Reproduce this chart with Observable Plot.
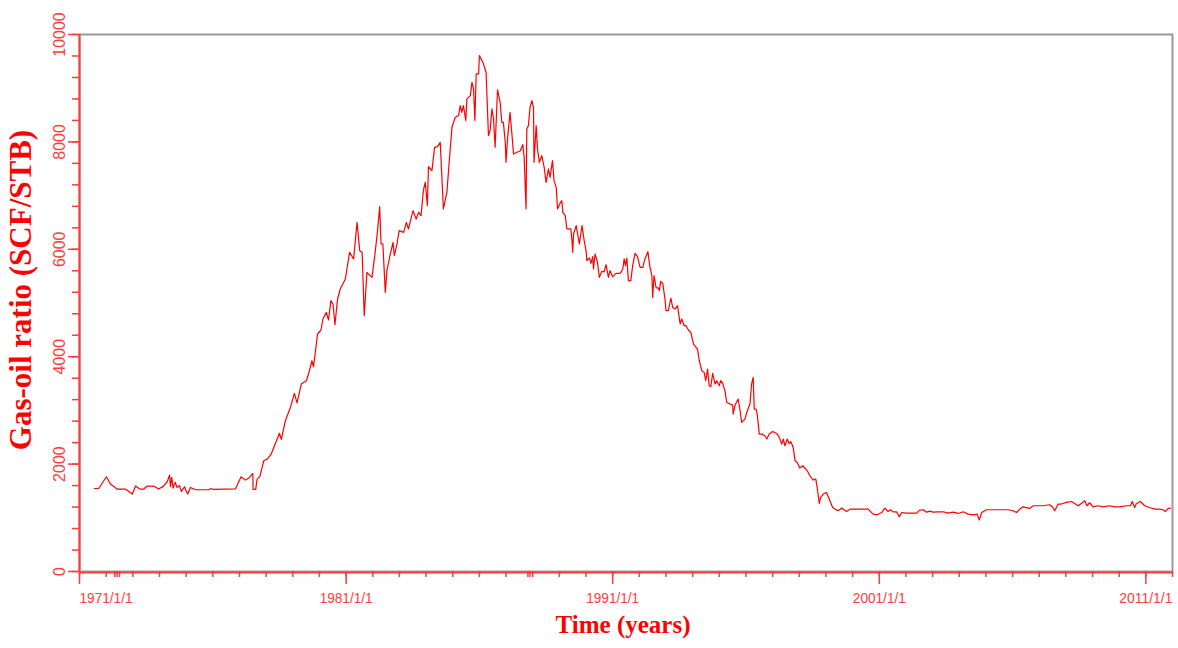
<!DOCTYPE html>
<html>
<head>
<meta charset="utf-8">
<script src="https://cdn.jsdelivr.net/npm/d3@7"></script>
<script src="https://cdn.jsdelivr.net/npm/@observablehq/plot@0.6"></script>
<style>
  html, body { margin: 0; padding: 0; background: #fff; }
  #chart { width: 1178px; height: 648px; }
</style>
</head>
<body>
<div id="chart"></div>
<script>
// Decimal years of each sample
const years = [
  1971.56, 1971.72, 1972.01, 1972.16, 1972.41, 1972.72, 1972.98, 1973.10, 1973.26, 1973.41,
  1973.54, 1973.78, 1973.97, 1974.14, 1974.29, 1974.38, 1974.41, 1974.46, 1974.51, 1974.59,
  1974.66, 1974.75, 1974.82, 1974.94, 1974.98, 1975.06, 1975.16, 1975.35, 1975.85, 1975.94,
  1976.03, 1976.85, 1977.06, 1977.22, 1977.35, 1977.50, 1977.51, 1977.61, 1977.66, 1977.76,
  1977.91, 1978.04, 1978.19, 1978.35, 1978.50, 1978.57, 1978.72, 1978.91, 1979.06, 1979.16,
  1979.32, 1979.51, 1979.59, 1979.72, 1979.78, 1979.93, 1980.06, 1980.13, 1980.26, 1980.34,
  1980.43, 1980.51, 1980.58, 1980.68, 1980.78, 1980.97, 1981.13, 1981.28, 1981.41, 1981.51,
  1981.60, 1981.68, 1981.78, 1981.97, 1982.09, 1982.18, 1982.26, 1982.31, 1982.38, 1982.47,
  1982.53, 1982.66, 1982.76, 1982.81, 1982.91, 1982.99, 1983.16, 1983.26, 1983.34, 1983.51,
  1983.63, 1983.72, 1983.81, 1983.90, 1983.97, 1984.05, 1984.09, 1984.22, 1984.32, 1984.43,
  1984.53, 1984.65, 1984.78, 1984.88, 1984.97, 1985.09, 1985.22, 1985.28, 1985.34, 1985.40,
  1985.49, 1985.53, 1985.66, 1985.72, 1985.78, 1985.83, 1985.88, 1985.97, 1986.00, 1986.13,
  1986.25, 1986.34, 1986.40, 1986.47, 1986.53, 1986.59, 1986.68, 1986.78, 1986.84, 1986.90,
  1986.97, 1987.00, 1987.05, 1987.15, 1987.22, 1987.28, 1987.41, 1987.53, 1987.63, 1987.68,
  1987.75, 1987.78, 1987.84, 1987.90, 1987.97, 1988.03, 1988.05, 1988.13, 1988.18, 1988.25,
  1988.34, 1988.43, 1988.50, 1988.59, 1988.65, 1988.74, 1988.80, 1988.88, 1988.93, 1989.03,
  1989.09, 1989.13, 1989.22, 1989.28, 1989.43, 1989.47, 1989.50, 1989.53, 1989.63, 1989.75,
  1989.85, 1989.93, 1990.00, 1990.03, 1990.13, 1990.18, 1990.25, 1990.28, 1990.34, 1990.43,
  1990.50, 1990.59, 1990.68, 1990.75, 1990.84, 1990.90, 1991.00, 1991.13, 1991.28, 1991.38,
  1991.43, 1991.48, 1991.53, 1991.59, 1991.68, 1991.75, 1991.84, 1991.93, 1992.03, 1992.13,
  1992.21, 1992.32, 1992.40, 1992.47, 1992.50, 1992.55, 1992.63, 1992.71, 1992.75, 1992.80,
  1992.88, 1992.96, 1993.00, 1993.09, 1993.18, 1993.25, 1993.34, 1993.43, 1993.53, 1993.59,
  1993.68, 1993.75, 1993.84, 1993.93, 1994.03, 1994.13, 1994.18, 1994.25, 1994.34, 1994.43,
  1994.49, 1994.56, 1994.62, 1994.68, 1994.75, 1994.84, 1994.90, 1995.00, 1995.05, 1995.13,
  1995.21, 1995.28, 1995.40, 1995.50, 1995.52, 1995.59, 1995.71, 1995.78, 1995.84, 1995.96,
  1996.05, 1996.15, 1996.21, 1996.27, 1996.31, 1996.38, 1996.42, 1996.50, 1996.59, 1996.71,
  1996.78, 1996.87, 1997.00, 1997.15, 1997.25, 1997.34, 1997.40, 1997.46, 1997.55, 1997.62,
  1997.68, 1997.77, 1997.84, 1997.92, 1998.02, 1998.13, 1998.28, 1998.40, 1998.52, 1998.62,
  1998.67, 1998.75, 1998.80, 1998.90, 1999.02, 1999.15, 1999.25, 1999.34, 1999.46, 1999.59,
  1999.77, 1999.92, 2000.58, 2000.77, 2000.92, 2001.09, 2001.21, 2001.33, 2001.42, 2001.52,
  2001.65, 2001.75, 2001.84, 2002.02, 2002.40, 2002.52, 2002.65, 2002.77, 2002.90, 2003.02,
  2003.21, 2003.40, 2003.58, 2003.77, 2003.96, 2004.15, 2004.33, 2004.55, 2004.67, 2004.75,
  2004.84, 2005.02, 2005.27, 2005.52, 2005.83, 2006.02, 2006.15, 2006.27, 2006.39, 2006.52,
  2006.64, 2006.77, 2007.14, 2007.39, 2007.50, 2007.58, 2007.71, 2007.83, 2008.02, 2008.21,
  2008.33, 2008.46, 2008.58, 2008.71, 2008.79, 2008.89, 2009.02, 2009.21, 2009.39, 2009.64,
  2009.83, 2010.02, 2010.27, 2010.42, 2010.49, 2010.58, 2010.64, 2010.79, 2010.96, 2011.14,
  2011.33, 2011.52, 2011.64, 2011.74, 2011.83, 2011.92
];
// Gas-oil ratio (SCF/STB)
const gor = [
  1546, 1546, 1764, 1628, 1535, 1535, 1442, 1591, 1535, 1535,
  1591, 1591, 1535, 1585, 1671, 1796, 1578, 1754, 1553, 1660,
  1565, 1600, 1491, 1578, 1522, 1442, 1565, 1522, 1522, 1546,
  1528, 1540, 1764, 1702, 1740, 1826, 1528, 1528, 1721, 1764,
  2062, 2093, 2187, 2390, 2575, 2460, 2807, 3055, 3316, 3140,
  3491, 3553, 3677, 3925, 3813, 4423, 4497, 4702, 4825, 4684,
  5043, 4981, 4596, 5075, 5261, 5447, 5943, 5820, 6502, 5975,
  5943, 4764, 5570, 5477, 5943, 6347, 6794, 6100, 6100, 5198,
  5602, 5913, 6129, 5882, 6100, 6347, 6316, 6502, 6379, 6720,
  6565, 6688, 6627, 7100, 7247, 6813, 7540, 7465, 7899, 7912,
  7992, 6751, 7061, 7713, 8272, 8458, 8490, 8676, 8551, 8676,
  8397, 8801, 8862, 9110, 8990, 8397, 9266, 9266, 9607, 9483,
  9296, 8117, 8210, 8614, 8428, 7899, 8970, 8738, 8365, 8365,
  7992, 7620, 8024, 8551, 8148, 7776, 7806, 7830, 7950, 7713,
  6751, 8241, 8303, 8644, 8769, 8644, 7620, 8303, 7869, 7620,
  7744, 7527, 7247, 7496, 7340, 7651, 7278, 7154, 6751, 6860,
  6906, 6688, 6627, 6379, 6379, 6161, 5943, 6286, 6440, 6100,
  6440, 6161, 5975, 5789, 5840, 5738, 5863, 5633, 5913, 5757,
  5477, 5589, 5580, 5714, 5477, 5602, 5490, 5552, 5552, 5633,
  5820, 5695, 5838, 5416, 5416, 5695, 5924, 5870, 5664, 5664,
  5820, 5956, 5664, 5509, 5105, 5509, 5280, 5280, 5230, 5403,
  5360, 5075, 4857, 4857, 5093, 4918, 4890, 4950, 4609, 4702,
  4577, 4577, 4497, 4453, 4236, 4173, 4140, 3925, 3739, 3708,
  3553, 3771, 3460, 3440, 3689, 3491, 3553, 3460, 3553, 3500,
  3367, 3148, 3118, 3100, 2932, 3100, 3212, 2994, 2776, 2839,
  2994, 3118, 3491, 3615, 3025, 3025, 2932, 2559, 2559, 2528,
  2466, 2559, 2608, 2571, 2497, 2373, 2466, 2342, 2466, 2380,
  2420, 2311, 2062, 2031, 1926, 1969, 1889, 1783, 1703, 1721,
  1565, 1267, 1379, 1442, 1472, 1317, 1192, 1162, 1131, 1181,
  1118, 1162, 1162, 1069, 1056, 1099, 1181, 1118, 1150, 1110,
  1110, 1019, 1099, 1088, 1088, 1144, 1150, 1105, 1125, 1105,
  1112, 1112, 1088, 1105, 1081, 1112, 1069, 1056, 1069, 958,
  1099, 1150, 1150, 1150, 1150, 1131, 1099, 1162, 1205, 1190,
  1175, 1224, 1224, 1243, 1200, 1131, 1256, 1256, 1286, 1304,
  1268, 1224, 1268, 1317, 1224, 1280, 1205, 1224, 1205, 1224,
  1205, 1205, 1224, 1224, 1304, 1190, 1262, 1304, 1224, 1192,
  1162, 1162, 1150, 1118, 1170, 1181
];
// Axis ticks
const xMajorYears = [1971, 1981, 1991, 2001, 2011];
const xMinorYears = d3.range(1971, 2013);
const xEventYears = [1972.32, 1972.41, 1972.50, 1987.82, 1987.90];
const yMajorTicks = [0, 2000, 4000, 6000, 8000, 10000];
const yMinorTicks = d3.range(0, 10001, 400);
const xTitle = "Time (years)";
const yTitle = "Gas-oil ratio (SCF/STB)";

function decToDate(y) {
  const yr = Math.floor(y);
  const a = Date.UTC(yr, 0, 1), b = Date.UTC(yr + 1, 0, 1);
  return new Date(a + (y - yr) * (b - a));
}
const data = years.map((y, i) => ({date: decToDate(y), gor: gor[i]}));
const RED = "#ff0000";
const AX = "#ff3b3b";
const fmt = d => `${d.getUTCFullYear()}/1/1`;
const blank = () => "";
const serif = "'Liberation Serif', 'Times New Roman', serif";
const xLabelOpts = {tickSize: 13, tickPadding: 8, stroke: AX, strokeWidth: 1.5, fill: AX, fontSize: 15,
  tickFormat: fmt, label: null};

const chart = Plot.plot({
  width: 1178,
  height: 648,
  marginLeft: 79,
  marginRight: 6,
  marginTop: 34,
  marginBottom: 77,
  style: {background: "#fff", color: RED, fontFamily: "'Liberation Sans', Arial, sans-serif"},
  x: {type: "utc", domain: [decToDate(1971), decToDate(2012)]},
  y: {domain: [0, 10000]},
  marks: [
    Plot.frame({stroke: "#9a9a9a", strokeWidth: 2}),
    // y minor ticks
    Plot.axisY({ticks: yMinorTicks, tickSize: 7, tickFormat: blank, stroke: AX, strokeWidth: 1.5, label: null}),
    // y major ticks + rotated labels
    Plot.axisY({ticks: yMajorTicks, tickSize: 11, tickPadding: 4, tickRotate: -90, stroke: AX, strokeWidth: 1.5,
      fill: AX, fontSize: 16, label: null, tickFormat: d => String(d)}),
    // x minor ticks
    Plot.axisX(xMinorYears.map(decToDate), {tickSize: 6, tickFormat: blank, stroke: AX, strokeWidth: 1.5, label: null}),
    Plot.axisX(xEventYears.map(decToDate), {tickSize: 6, tickFormat: blank, stroke: AX, strokeWidth: 1.5, label: null}),
    // x major ticks + labels
    Plot.axisX(xMajorYears.slice(1).map(decToDate), xLabelOpts),
    Plot.axisX(xMajorYears.slice(0, 1).map(decToDate), {...xLabelOpts, textAnchor: "start"}),
    // axis lines
    Plot.ruleX([decToDate(1971)], {stroke: AX, strokeWidth: 2}),
    Plot.ruleY([0], {stroke: AX, strokeWidth: 2, dy: 1}),
    // data
    Plot.line(data, {x: "date", y: "gor", stroke: RED, strokeWidth: 1.2}),
    // titles
    Plot.text([xTitle], {frameAnchor: "bottom", dy: 61, dx: -3, fill: RED, fontSize: 25, fontWeight: "bold",
      fontFamily: serif, text: d => d}),
    Plot.text([yTitle], {frameAnchor: "left", textAnchor: "middle", dx: -58, dy: -13, rotate: -90, fill: RED,
      fontSize: 31, fontWeight: "bold", fontFamily: serif, text: d => d})
  ]
});
// slightly narrowed date labels like the original
d3.select(chart).selectAll("g[aria-label='x-axis tick label'] text")
  .filter(function() { return this.textContent.length > 0; })
  .attr("textLength", 53)
  .attr("lengthAdjust", "spacingAndGlyphs");
document.getElementById("chart").appendChild(chart);
</script>
</body>
</html>
